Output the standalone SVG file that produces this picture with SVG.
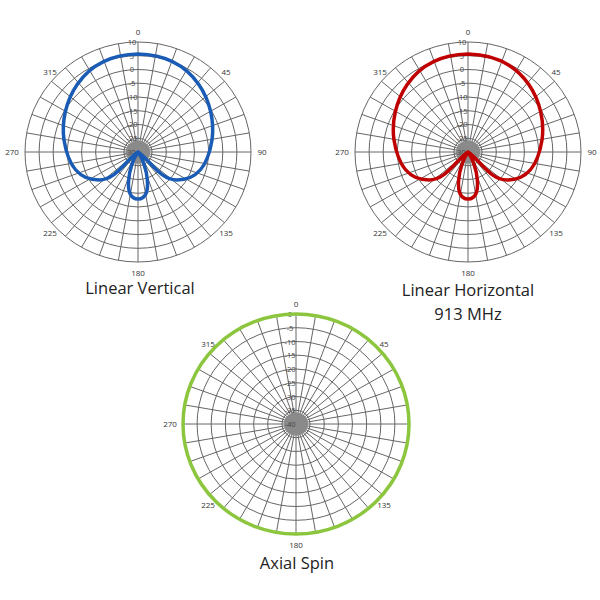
<svg xmlns="http://www.w3.org/2000/svg" xmlns:xlink="http://www.w3.org/1999/xlink" width="600" height="600" viewBox="0 0 600 600">
<style>
.g{fill:none;stroke:#666;stroke-width:1}
.t{font-family:"Open Sans","Liberation Sans",sans-serif;font-size:8px;fill:#333;text-anchor:middle}
.r{font-family:"Open Sans","Liberation Sans",sans-serif;font-size:7.5px;fill:#444;text-anchor:middle}
.h{font-family:"Open Sans","Liberation Sans",sans-serif;font-size:16.5px;fill:#222;text-anchor:middle}
.c{fill:none;stroke-width:3.5;stroke-linejoin:round;stroke-linecap:round}
</style>
<defs>
<g id="grid" class="g">
<ellipse rx="113" ry="110"/><ellipse rx="98.9" ry="96.3"/><ellipse rx="84.8" ry="82.5"/><ellipse rx="70.6" ry="68.8"/>
<ellipse rx="56.5" ry="55"/><ellipse rx="42.4" ry="41.3"/><ellipse rx="28.3" ry="27.5"/><ellipse rx="14.1" ry="13.8"/>
<path d="M0,-110L0,110M19.6,-108.3L-19.6,108.3M38.6,-103.4L-38.6,103.4M56.5,-95.3L-56.5,95.3M72.6,-84.3L-72.6,84.3M86.6,-70.7L-86.6,70.7M97.9,-55L-97.9,55M106.2,-37.6L-106.2,37.6M111.3,-19.1L-111.3,19.1M113,0L-113,0M111.3,19.1L-111.3,-19.1M106.2,37.6L-106.2,-37.6M97.9,55L-97.9,-55M86.6,70.7L-86.6,-70.7M72.6,84.3L-72.6,-84.3M56.5,95.3L-56.5,-95.3M38.6,103.4L-38.6,-103.4M19.6,108.3L-19.6,-108.3"/>
<ellipse rx="12" ry="11.5" fill="#8a8a8a" stroke="none"/>
</g>
<g id="angles" class="t">
<text x="0" y="-117">0</text><text x="88" y="-77">45</text><text x="-88" y="-77">315</text>
<text x="-126" y="3">270</text>
<text x="88" y="84">135</text><text x="-88" y="84">225</text><text x="0" y="124">180</text>
</g>
<path id="lobe" d="M138,152 C150,160 160,180 177,180 C198,180 208,165 212,140 C217,105 196,55 138,54 C80,55 59,105 64,140 C68,165 78,180 99,180 C116,180 126,160 138,152 Z M138,152 C129,165 122,199 138,199 C154,199 147,165 138,152 Z"/>
</defs>

<g id="plot-vertical">
<use xlink:href="#grid" x="138" y="152"/>
<use xlink:href="#angles" x="138" y="152"/>
<text class="t" x="262" y="155">90</text>
<g class="r"><text x="132" y="45">10</text><text x="132" y="59">5</text><text x="132" y="72">0</text><text x="132" y="86">-5</text><text x="132" y="100">-10</text><text x="132" y="114">-15</text><text x="132" y="127">-20</text><text x="132" y="141">-25</text><text x="130" y="155">-30</text></g>
<use xlink:href="#lobe" class="c" stroke="#1a5cb5"/>
<text class="h" x="140" y="294">Linear Vertical</text>
</g>

<g id="plot-horizontal">
<use xlink:href="#grid" x="468" y="152"/>
<use xlink:href="#angles" x="468" y="152"/>
<text class="t" x="592" y="155">90</text>
<g class="r"><text x="462" y="45">10</text><text x="462" y="59">5</text><text x="462" y="72">0</text><text x="462" y="86">-5</text><text x="462" y="100">-10</text><text x="462" y="114">-15</text><text x="462" y="127">-20</text><text x="462" y="141">-25</text><text x="460" y="155">-30</text></g>
<use xlink:href="#lobe" class="c" stroke="#c00000" x="330"/>
<text class="h" x="468" y="296">Linear Horizontal</text>
<text class="h" x="468" y="320">913 MHz</text>
</g>

<g id="plot-axial">
<use xlink:href="#grid" x="296" y="424"/>
<use xlink:href="#angles" x="296" y="424"/>
<g class="r"><text x="290" y="317">0</text><text x="290" y="331">-5</text><text x="290" y="345">-10</text><text x="290" y="358">-15</text><text x="290" y="372">-20</text><text x="290" y="386">-25</text><text x="290" y="400">-30</text><text x="290" y="413">-35</text><text x="290" y="427">-40</text></g>
<ellipse cx="296" cy="424" rx="113" ry="110" class="c" stroke="#8cc63f"/>
<text class="h" x="297" y="569">Axial Spin</text>
</g>
</svg>
